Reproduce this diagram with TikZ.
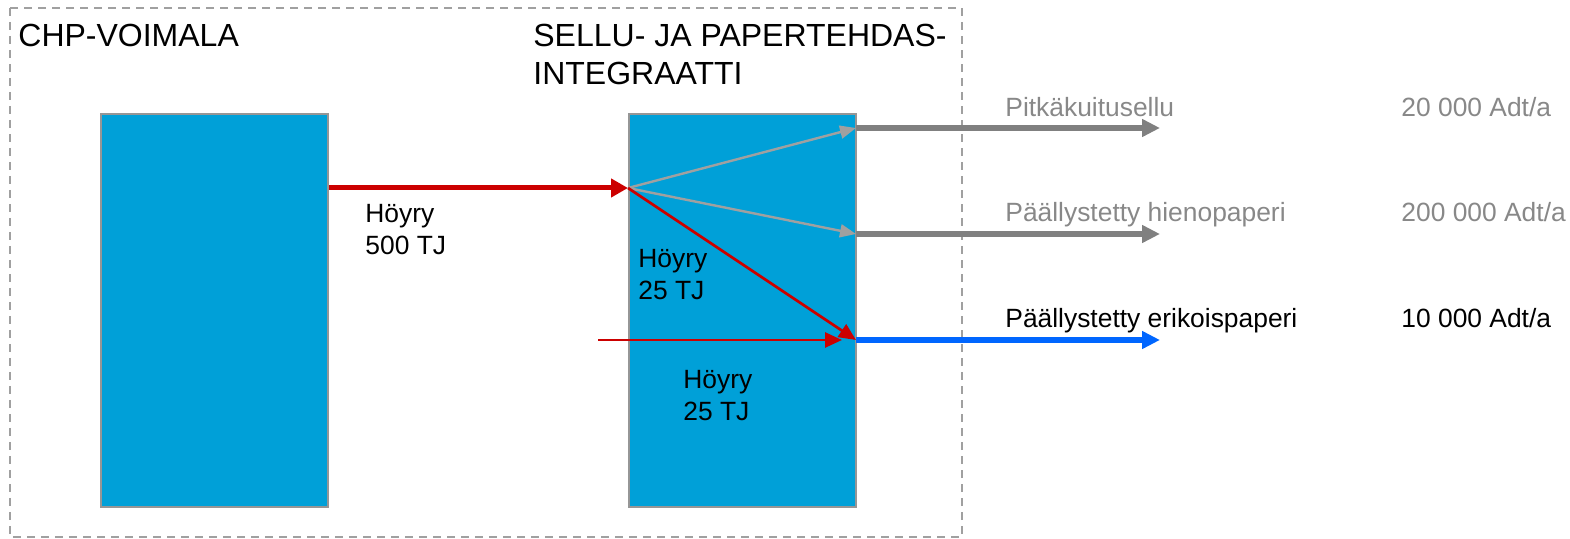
\documentclass[tikz,border=0pt]{standalone}
\usepackage{fontspec}
\setmainfont{Liberation Sans}
\usetikzlibrary{arrows.meta}
\definecolor{boxblue}{RGB}{0,160,216}
\definecolor{boxedge}{RGB}{150,150,150}
\definecolor{flowred}{RGB}{204,0,0}
\definecolor{flowgray}{RGB}{128,128,128}
\definecolor{thingray}{RGB}{160,160,160}
\definecolor{flowblue}{RGB}{0,102,255}
\definecolor{txtgray}{RGB}{136,136,136}
\definecolor{framegray}{RGB}{160,160,160}
\begin{document}
\begin{tikzpicture}[x=0.5pt,y=-0.5pt,
  unit/.style={draw=boxedge,line width=1pt,fill=boxblue,minimum width=113.5pt,minimum height=196.5pt,inner sep=0pt,anchor=north west},
  title/.style={font=\fontsize{16}{19}\selectfont,anchor=base west,inner sep=0pt,align=left},
  lbl/.style={font=\fontsize{13.2}{16}\selectfont,anchor=base west,inner sep=0pt,align=left},
  bigred/.style={draw=flowred,line width=2.5pt,-{Triangle[length=8.5pt,width=9pt]}},
  thinred/.style={draw=flowred,line width=1.35pt,-{Triangle[length=8.5pt,width=7.5pt]}},
  thingr/.style={draw=thingray,line width=1.2pt,-{Triangle[length=8pt,width=6.5pt]}},
  outgray/.style={draw=flowgray,line width=3pt,-{Triangle[length=9pt,width=8.5pt]}},
  outblue/.style={draw=flowblue,line width=3pt,-{Triangle[length=9pt,width=8.5pt]}}]
\useasboundingbox (0,0) rectangle (1570,539);
\draw[framegray,line width=0.75pt,dash pattern=on 4pt off 3pt] (10,8) rectangle (962,537);
\node[unit] (chp) at (100,113) {};
\node[unit] (mill) at (628,113) {};
\node[title] (t1) at (18,47) {CHP-VOIMALA};
\node[title] (t2) at (533,85) {SELLU- JA PAPERTEHDAS-\\INTEGRAATTI};
\coordinate (hub) at (628,188);
\coordinate (o1) at (856,128);
\coordinate (o2) at (856,234);
\coordinate (o3) at (856,340);
\coordinate (e1) at (1160,128);
\coordinate (e2) at (1160,234);
\coordinate (e3) at (1160,340);
\coordinate (s3) at (598,340);
\coordinate (m3) at (842,340);
\draw[bigred] (chp.east |- hub) -- (hub);
\draw[outgray] (o1) -- (e1);
\draw[outgray] (o2) -- (e2);
\draw[outblue] (o3) -- (e3);
\draw[thingr] (hub) -- (o1);
\draw[thingr] (hub) -- (o2);
\draw[thinred] (hub) -- (o3);
\draw[thinred] (s3) -- (m3);
\node[lbl] (l1) at (365,255) {Höyry\\500 TJ};
\node[lbl] (l2) at (638,300) {Höyry\\25 TJ};
\node[lbl] (l3) at (683,421) {Höyry\\25 TJ};
\node[lbl,text=txtgray] (p1) at (1005,117) {Pitkäkuitusellu};
\node[lbl,text=txtgray] (q1) at (1401,117) {20 000 Adt/a};
\node[lbl,text=txtgray] (p2) at (1005,222) {Päällystetty hienopaperi};
\node[lbl,text=txtgray] (q2) at (1401,222) {200 000 Adt/a};
\node[lbl] (p3) at (1005,328) {Päällystetty erikoispaperi};
\node[lbl] (q3) at (1401,328) {10 000 Adt/a};
\end{tikzpicture}
\end{document}
